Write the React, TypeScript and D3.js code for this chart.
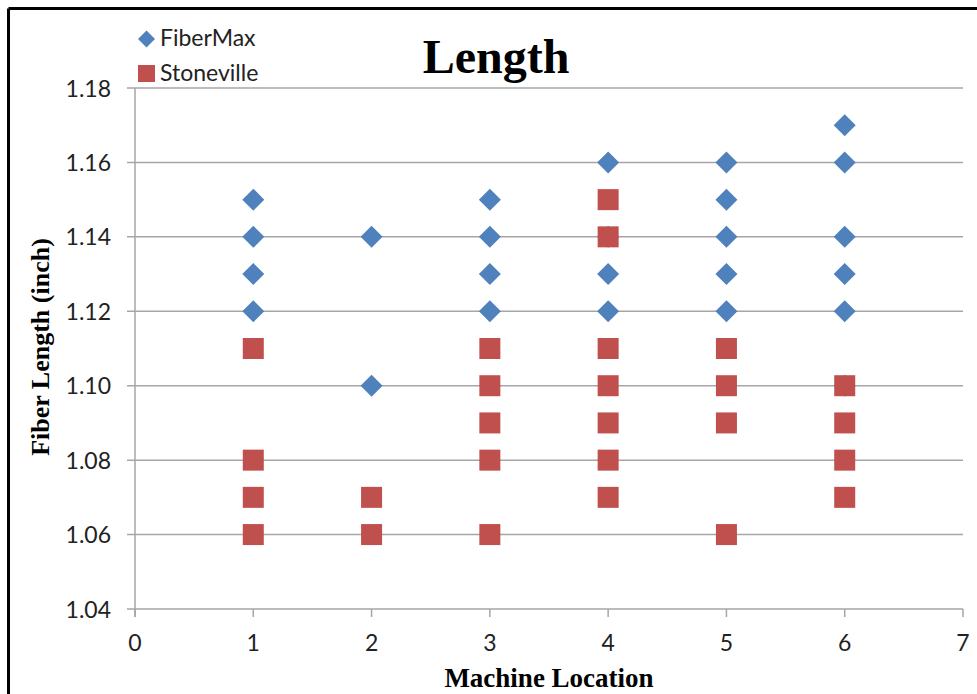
import React from "react";
import * as d3 from "d3";

const fiberMaxX = [1, 1, 1, 1, 2, 2, 3, 3, 3, 3, 4, 4, 4, 4, 5, 5, 5, 5, 5, 6, 6, 6, 6, 6, 6];
const fiberMaxY = [1.15, 1.14, 1.13, 1.12, 1.14, 1.10, 1.15, 1.14, 1.13, 1.12, 1.16, 1.14, 1.13, 1.12, 1.16, 1.15, 1.14, 1.13, 1.12, 1.17, 1.16, 1.14, 1.13, 1.12, 1.10];
const stonevilleX = [1, 1, 1, 1, 2, 2, 3, 3, 3, 3, 3, 4, 4, 4, 4, 4, 4, 4, 5, 5, 5, 5, 6, 6, 6, 6];
const stonevilleY = [1.11, 1.08, 1.07, 1.06, 1.07, 1.06, 1.11, 1.10, 1.09, 1.08, 1.06, 1.15, 1.14, 1.11, 1.10, 1.09, 1.08, 1.07, 1.11, 1.10, 1.09, 1.06, 1.10, 1.09, 1.08, 1.07];
const xTicks = [0, 1, 2, 3, 4, 5, 6, 7];
const yTicks = [1.04, 1.06, 1.08, 1.1, 1.12, 1.14, 1.16, 1.18];

const W = 977;
const H = 694;
const BLUE = "#4F81BD";
const RED = "#C0504D";
const GRID = "#A6A6A6";
const SANS = "Lato, 'Open Sans', sans-serif";
const SERIF = "'Liberation Serif', 'Times New Roman', serif";

export default function App() {
  const x = d3.scaleLinear().domain([0, 7]).range([135, 963]);
  const y = d3.scaleLinear().domain([1.04, 1.18]).range([609, 88]);
  const ds = 11;
  const sq = 21;

  return (
    <svg
      width={W}
      height={H}
      style={{ position: "absolute", left: 0, top: 0, background: "#fff" }}
    >
      <rect x={0} y={0} width={W} height={H} fill="#fff" />
      <line x1={8.5} y1={8.5} x2={W} y2={8.5} stroke="#000" strokeWidth={3} />
      <line x1={8.5} y1={8.5} x2={8.5} y2={H} stroke="#000" strokeWidth={3} />

      {yTicks.map((t) => (
        <g key={"y" + t}>
          <line x1={127} x2={x(7)} y1={y(t)} y2={y(t)} stroke={GRID} strokeWidth={1.5} />
          <text
            x={111}
            y={y(t) + 8.5}
            textAnchor="end"
            fontFamily={SANS}
            fontSize={23}
            fill="#222"
          >
            {t.toFixed(2)}
          </text>
        </g>
      ))}
      <line x1={x(0)} x2={x(0)} y1={y(1.18)} y2={y(1.04) + 8} stroke={GRID} strokeWidth={1.5} />
      {xTicks.map((t) => (
        <g key={"x" + t}>
          <line x1={x(t)} x2={x(t)} y1={y(1.04)} y2={y(1.04) + 8} stroke={GRID} strokeWidth={1.5} />
          <text
            x={x(t)}
            y={y(1.04) + 42}
            textAnchor="middle"
            fontFamily={SANS}
            fontSize={23}
            fill="#222"
          >
            {t}
          </text>
        </g>
      ))}

      {fiberMaxX.map((v, i) => (
        <path
          key={"f" + i}
          d={`M${x(v)},${y(fiberMaxY[i]) - ds}L${x(v) + ds},${y(fiberMaxY[i])}L${x(v)},${y(fiberMaxY[i]) + ds}L${x(v) - ds},${y(fiberMaxY[i])}Z`}
          fill={BLUE}
        />
      ))}
      {stonevilleX.map((v, i) => (
        <rect
          key={"s" + i}
          x={x(v) - sq / 2}
          y={y(stonevilleY[i]) - sq / 2}
          width={sq}
          height={sq}
          fill={RED}
        />
      ))}

      <text
        x={496}
        y={73}
        textAnchor="middle"
        fontFamily={SERIF}
        fontWeight="bold"
        fontSize={48}
        fill="#000"
      >
        Length
      </text>

      <path d={`M146.5,30.5L155,39L146.5,47.5L138,39Z`} fill={BLUE} />
      <text x={160} y={46} fontFamily={SANS} fontSize={23} fill="#222">
        FiberMax
      </text>
      <rect x={138} y={65} width={17} height={17} fill={RED} />
      <text x={160} y={81} fontFamily={SANS} fontSize={23} fill="#222">
        Stoneville
      </text>

      <text
        x={549}
        y={687}
        textAnchor="middle"
        fontFamily={SERIF}
        fontWeight="bold"
        fontSize={27}
        fill="#000"
      >
        Machine Location
      </text>
      <text
        transform={`translate(49,347) rotate(-90)`}
        textAnchor="middle"
        fontFamily={SERIF}
        fontWeight="bold"
        fontSize={26}
        fill="#000"
      >
        Fiber Length (inch)
      </text>
    </svg>
  );
}
